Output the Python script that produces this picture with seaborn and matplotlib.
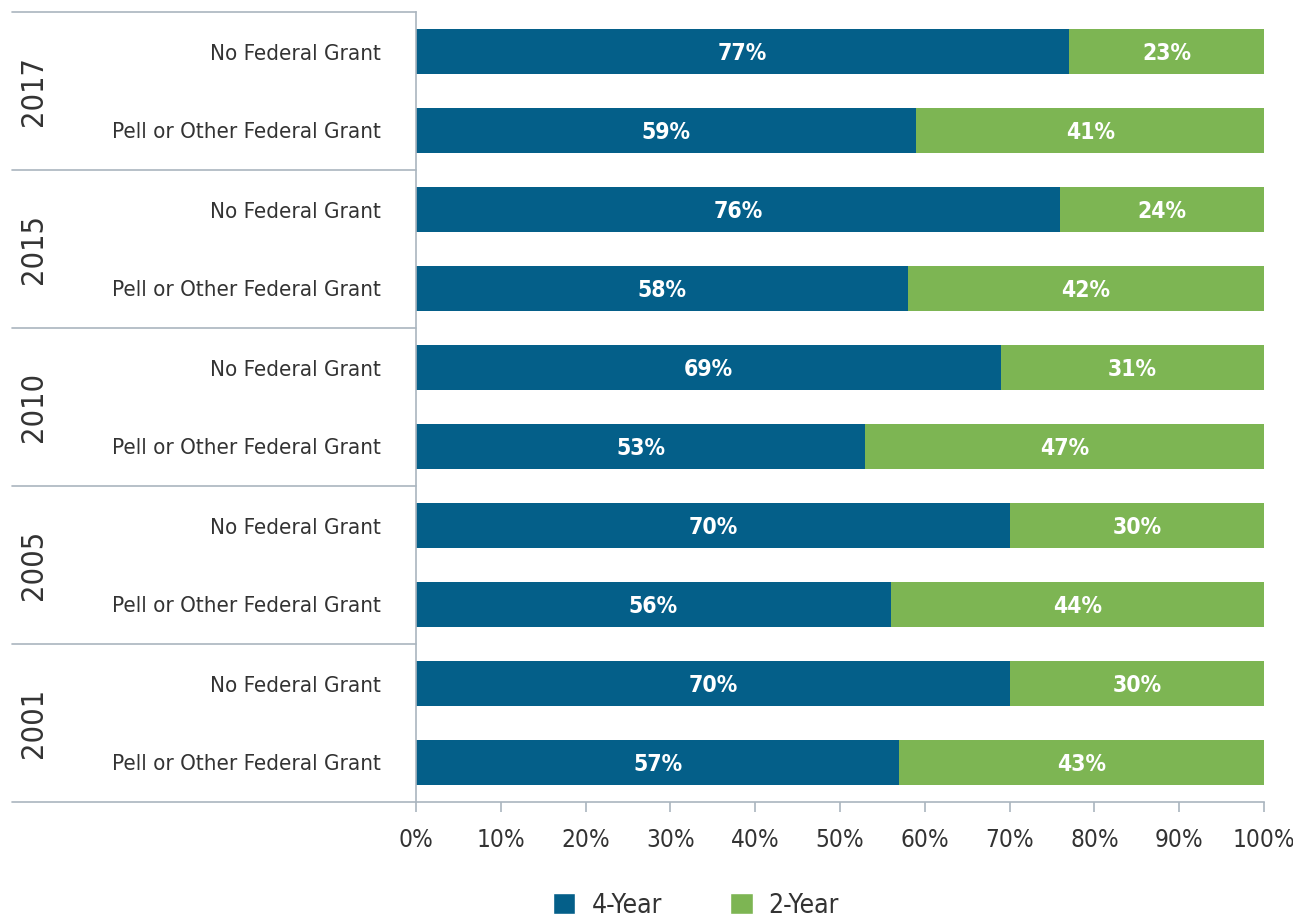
import matplotlib
matplotlib.use("Agg")
import matplotlib.pyplot as plt
import matplotlib.transforms as mtransforms
from matplotlib import font_manager as fm
from matplotlib.patches import Patch
import pandas as pd
import seaborn as sns

# Data: share of students by institution type, top to bottom
years = ["2017", "2015", "2010", "2005", "2001"]
grant_groups = ["No Federal Grant", "Pell or Other Federal Grant"]
four_year = [77, 59, 76, 58, 69, 53, 70, 56, 70, 57]
two_year = [23, 41, 24, 42, 31, 47, 30, 44, 30, 43]
x_ticks = [0, 10, 20, 30, 40, 50, 60, 70, 80, 90, 100]
legend_labels = ["4-Year", "2-Year"]

BLUE = "#045f89"
GREEN = "#7db553"
TEXT = "#333333"
RULE = "#aab5bf"

sns.set_theme(style="white")


def pick_narrow(bold):
    """Return a path to a condensed/narrow font file, if one is installed."""
    best = None
    target = 700 if bold else 400
    for f in fm.fontManager.ttflist:
        narrow = ("Narrow" in f.name or "Condensed" in f.name
                  or f.stretch in ("condensed", "semi-condensed"))
        if not narrow or f.style != "normal":
            continue
        w = f.weight if isinstance(f.weight, int) else (700 if "bold" in str(f.weight) else 400)
        if bold != (w >= 600):
            continue
        if best is None or abs(w - target) < abs(best[1] - target):
            best = (f.fname, w)
    return best[0] if best else None


reg_path = pick_narrow(False)
bold_path = pick_narrow(True)
if reg_path:
    FP = lambda size: fm.FontProperties(fname=reg_path, size=size)
    scale = 1.0
else:
    plt.rcParams["font.family"] = ["Roboto", "DejaVu Sans"]
    FP = lambda size: fm.FontProperties(family=["Roboto", "DejaVu Sans"], size=size)
    scale = 0.88
if bold_path:
    FPB = lambda size: fm.FontProperties(fname=bold_path, size=size)
else:
    FPB = lambda size: fm.FontProperties(family=["Roboto", "DejaVu Sans"],
                                         weight="bold", size=size)

rows = []
for yi, yr in enumerate(years):
    for gi, grp in enumerate(grant_groups):
        k = yi * 2 + gi
        rows.append({"key": f"{yr} {grp}", "group": grp, "year": yr,
                     "four": four_year[k], "two": two_year[k],
                     "total": four_year[k] + two_year[k]})
df = pd.DataFrame(rows)

fig = plt.figure(figsize=(12.93, 9.19), dpi=100)
ax = fig.add_axes([416 / 1293, 1 - 802 / 919, 848 / 1293, 790 / 919])

# stacked bars: full length in green, 4-year share drawn over it in blue
sns.barplot(data=df, y="key", x="total", orient="h", color=GREEN, width=0.57,
            saturation=1, ax=ax, edgecolor="none")
sns.barplot(data=df, y="key", x="four", orient="h", color=BLUE, width=0.57,
            saturation=1, ax=ax, edgecolor="none")

ax.set_xlim(0, 100)
ax.set_ylim(9.5, -0.5)
ax.set_xlabel("")
ax.set_ylabel("")

# value labels inside the segments
for i, r in df.iterrows():
    ax.text(r["four"] / 2, i + 0.02, f"{r['four']}%", ha="center", va="center",
            color="white", fontproperties=FPB(16.5 * scale))
    ax.text(r["four"] + r["two"] / 2, i + 0.02, f"{r['two']}%", ha="center",
            va="center", color="white", fontproperties=FPB(16.5 * scale))

# category labels
ax.set_yticks(range(len(df)))
ax.set_yticklabels(df["group"], color=TEXT)
for lab in ax.get_yticklabels():
    lab.set_fontproperties(FP(16 * scale))
ax.tick_params(axis="y", length=0, pad=25)

ax.set_xticks(x_ticks)
ax.set_xticklabels([f"{t}%" for t in x_ticks], color=TEXT)
for lab in ax.get_xticklabels():
    lab.set_fontproperties(FP(17.5 * scale))
ax.tick_params(axis="x", direction="out", length=7.5, width=1.2, color=RULE,
               pad=11, bottom=True)

for s in ["top", "right"]:
    ax.spines[s].set_visible(False)
for s in ["left", "bottom"]:
    ax.spines[s].set_color(RULE)
    ax.spines[s].set_linewidth(1.2)

# year group labels and separators in the left margin
trans = mtransforms.blended_transform_factory(ax.transAxes, ax.transData)
x_left = (12 - 416) / 848
for yi, yr in enumerate(years):
    ax.text((33 - 416) / 848, yi * 2 + 0.5, yr, rotation=90, ha="center",
            va="center", color=TEXT, transform=trans, clip_on=False,
            fontproperties=FP(22 * scale))
for b in [-0.5, 1.5, 3.5, 5.5, 7.5, 9.5]:
    ax.plot([x_left, 0], [b, b], color=RULE, lw=1.2, transform=trans,
            clip_on=False)

handles = [Patch(facecolor=BLUE), Patch(facecolor=GREEN)]
fig.legend(handles, legend_labels, loc="center",
           bbox_to_anchor=(696 / 1293, 1 - 906 / 919), ncol=2, frameon=False,
           prop=FP(19 * scale), handlelength=0.85, handleheight=0.85,
           handletextpad=0.6, columnspacing=2.6, labelcolor=TEXT)

fig.savefig("out.png", dpi=100)
